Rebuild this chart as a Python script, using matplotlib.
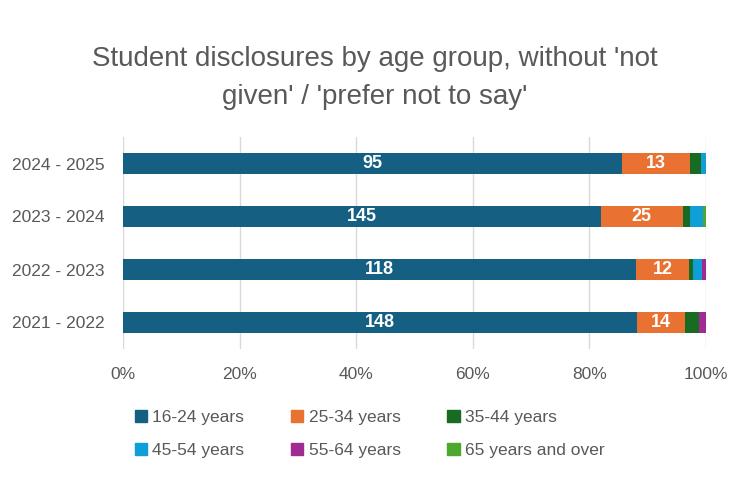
import matplotlib
matplotlib.use('Agg')
import numpy as np
import matplotlib.pyplot as plt
from matplotlib.patches import Patch

plt.rcParams['font.family'] = ['Liberation Sans', 'DejaVu Sans']

# ---- data (counts per academic year, bottom to top) ----
years = ['2021 - 2022', '2022 - 2023', '2023 - 2024', '2024 - 2025']
age_groups = ['16-24 years', '25-34 years', '35-44 years',
              '45-54 years', '55-64 years', '65 years and over']
age_16_24 = [148, 118, 145, 95]
age_25_34 = [14, 12, 25, 13]
age_35_44 = [4, 1, 2, 2]
age_45_54 = [0, 2, 4, 1]
age_55_64 = [2, 1, 0, 0]
age_65_over = [0, 0, 1, 0]
labelled = ['16-24 years', '25-34 years']

colors = ['#156082', '#E97132', '#196B24', '#0F9ED5', '#A02B93', '#4EA72E']
grey = '#595959'

counts = np.array([age_16_24, age_25_34, age_35_44,
                   age_45_54, age_55_64, age_65_over], dtype=float)
totals = counts.sum(axis=0)
shares = counts / totals

fig = plt.figure(figsize=(7.5, 5), dpi=100)
ax = fig.add_axes([123 / 750, 1 - 349 / 500, (706 - 123) / 750, (349 - 137) / 500])

y = np.arange(len(years))
left = np.zeros(len(years))
handles = []
for i, name in enumerate(age_groups):
    ax.barh(y, shares[i], left=left, height=0.4, color=colors[i],
            zorder=3, label=name)
    handles.append(Patch(facecolor=colors[i], edgecolor=colors[i], label=name))
    if name in labelled:
        for j in range(len(years)):
            ax.text(left[j] + shares[i][j] / 2, y[j], f"{int(counts[i][j])}",
                    ha='center', va='center', color='white',
                    fontsize=13, fontweight='bold', zorder=4)
    left += shares[i]

ax.set_xlim(0, 1)
ax.set_ylim(-0.5, len(years) - 0.5)
ax.set_xticks(np.linspace(0, 1, 6))
ax.set_xticklabels([f"{int(v)}%" for v in np.linspace(0, 100, 6)])
ax.set_yticks(y)
ax.set_yticklabels(years)
ax.tick_params(axis='x', length=0, pad=13, labelsize=12.5, labelcolor=grey)
ax.tick_params(axis='y', length=0, pad=13, labelsize=12.5, labelcolor=grey)
ax.grid(axis='x', color='#D9D9D9', linewidth=1, zorder=0)
for s in ax.spines.values():
    s.set_visible(False)

fig.text(0.5, 1 - 78 / 500,
         "Student disclosures by age group, without 'not\ngiven' / 'prefer not to say'",
         ha='center', va='center', fontsize=20, color=grey, linespacing=1.62)

# legend rows run left to right
order = [0, 3, 1, 4, 2, 5]
fig.legend([handles[k] for k in order], [age_groups[k] for k in order],
           ncol=3, loc='center left', bbox_to_anchor=(135 / 750, 1 - 434 / 500),
           frameon=False, fontsize=12.5, labelcolor=grey,
           handlelength=0.7, handleheight=0.7, handletextpad=0.3,
           columnspacing=2.7, labelspacing=1.0, borderpad=0, borderaxespad=0)

fig.savefig('out.png', dpi=100)
